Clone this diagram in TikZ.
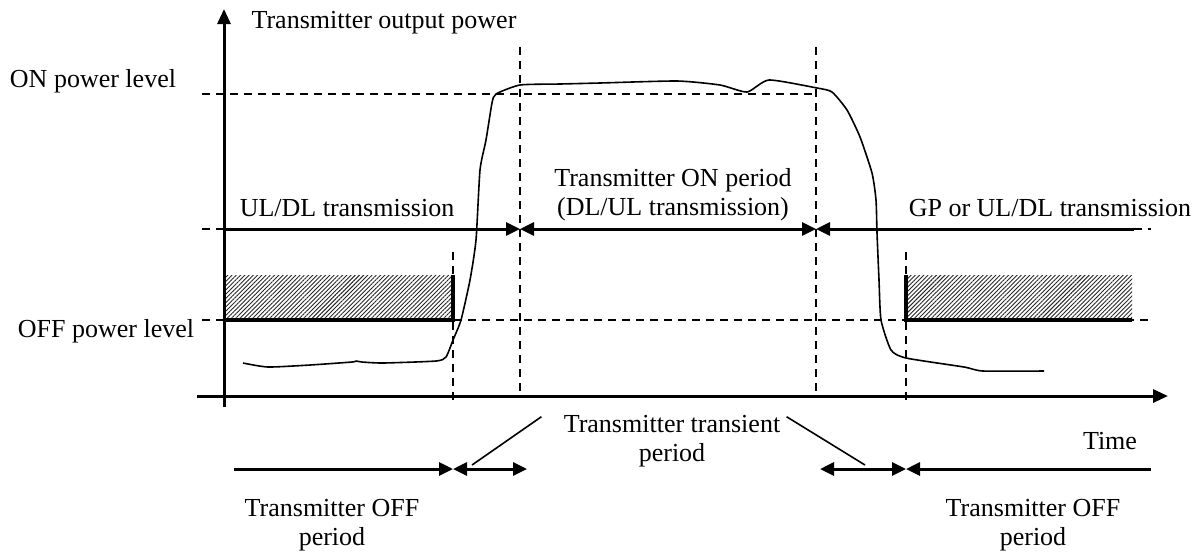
\documentclass[tikz,border=0pt]{standalone}
\usepackage{fontspec}
\setmainfont{Liberation Serif}
\usepackage{tikz}
\usetikzlibrary{arrows.meta, patterns.meta}
\tikzset{
  lbl/.style   = {align=center, inner sep=0pt,
                  font=\fontsize{13}{14.5}\selectfont},
  axis/.style  = {line width=1.5pt, -{Triangle[length=7.5pt, width=6.5pt]}},
  per/.style   = {line width=1.5pt, -{Triangle[length=7pt, width=6.5pt]}},
  dper/.style  = {line width=1.5pt,
                  {Triangle[length=7pt, width=6.5pt]}-{Triangle[length=7pt, width=6.5pt]}},
  guide/.style = {line width=1.2pt, dash pattern=on 4pt off 3pt},
  lvl/.style   = {line width=1.8pt},
  hatch/.style = {pattern={Lines[angle=45, distance=1.5pt, line width=0.45pt]},
                  pattern color=black!85},
  pw/.style    = {line width=0.8pt, line join=round},
  lead/.style  = {line width=0.8pt},
}

\begin{document}
\begin{tikzpicture}[x=0.5pt, y=-0.5pt]
  \useasboundingbox (0,0) rectangle (1202,554);

  % hatched OFF regions
  \fill[hatch] (224,275) rectangle (453,320);
  \fill[hatch] (906,275) rectangle (1132,320);

  % dashed guides
  \draw[guide] (202,94) -- (816,94);
  \draw[guide] (202,320) -- (1150,320);
  \draw[guide] (202,229) -- (224,229);
  \draw[guide] (1134,229) -- (1151,229);
  \draw[guide] (453,252) -- (453,402);
  \draw[guide] (520,47) -- (520,398);
  \draw[guide] (816,47) -- (816,398);
  \draw[guide] (906,252) -- (906,402);

  % axes
  \coordinate (yb) at (224,407); \coordinate (yt) at (224,9);
  \coordinate (xl) at (197,396); \coordinate (xr) at (1168,396);
  \draw[axis] (yb) -- (yt);
  \draw[axis] (xl) -- (xr);

  % OFF limits
  \draw[lvl] (224,320) -- (453,320) -- (453,275);
  \draw[lvl] (906,275) -- (906,320) -- (1132,320);

  % output power
  \draw[pw] plot[smooth, tension=0.35] coordinates {
    (243,363) (268,367) (310,365) (352,362) (356,361) (362,362) (383,363)
    (436,361) (446,357) (453,340) (461,320) (470,280) (476,240) (480,170)
    (486,140) (492,103) (496,94) (520,85) (560,84) (600,83) (677,81)
    (720,85) (747,92) (769,80) (817,88) (832,92) (847,110) (860,137)
    (872,173) (876,200) (877,233) (879,280) (881,320) (891,350) (906,358)
    (964,367) (983,371) (1044,371)};

  % labels
  \node[lbl] (ylab)   at (384,23)  {Transmitter output power};
  \node[lbl] (onlvl)  at (93,81)   {ON power level};
  \node[lbl] (offlvl) at (106,331) {OFF power level};
  \node[lbl] (ulti)   at (347,208) {UL/DL transmission};
  \node[lbl] (onper)  at (673,195) {Transmitter ON period\\(DL/UL transmission)};
  \node[lbl] (gpti)   at (1050,208) {GP or UL/DL transmission};
  \node[lbl] (trans)  at (672,441) {Transmitter transient\\period};
  \node[lbl] (timel)  at (1110,441) {Time};
  \node[lbl] (offl)   at (332,525) {Transmitter OFF\\period};
  \node[lbl] (offr)   at (1033,525) {Transmitter OFF\\period};

  % periods on the power axis
  \coordinate (a0) at (224,229); \coordinate (a1) at (520,229);
  \coordinate (a2) at (816,229); \coordinate (a3) at (1134,229);
  \draw[per] (a0) -- (a1);
  \draw[dper] (a1) -- (a2);
  \draw[per] (a3) -- (a2);

  % periods below the time axis
  \coordinate (b0) at (234,469); \coordinate (b1) at (453,469);
  \coordinate (b2) at (527,469); \coordinate (b3) at (820,469);
  \coordinate (b4) at (906,469); \coordinate (b5) at (1151,469);
  \draw[per] (b0) -- (b1);
  \draw[dper] (b1) -- (b2);
  \draw[dper] (b3) -- (b4);
  \draw[per] (b5) -- (b4);

  % leaders to the transient periods
  \coordinate (l1) at (472,465); \coordinate (l2) at (865,465);
  \draw[lead] ([xshift=-11pt,yshift=-1pt]trans.north west) -- (l1);
  \draw[lead] ([xshift=3pt,yshift=-1pt]trans.north east) -- (l2);
\end{tikzpicture}
\end{document}
